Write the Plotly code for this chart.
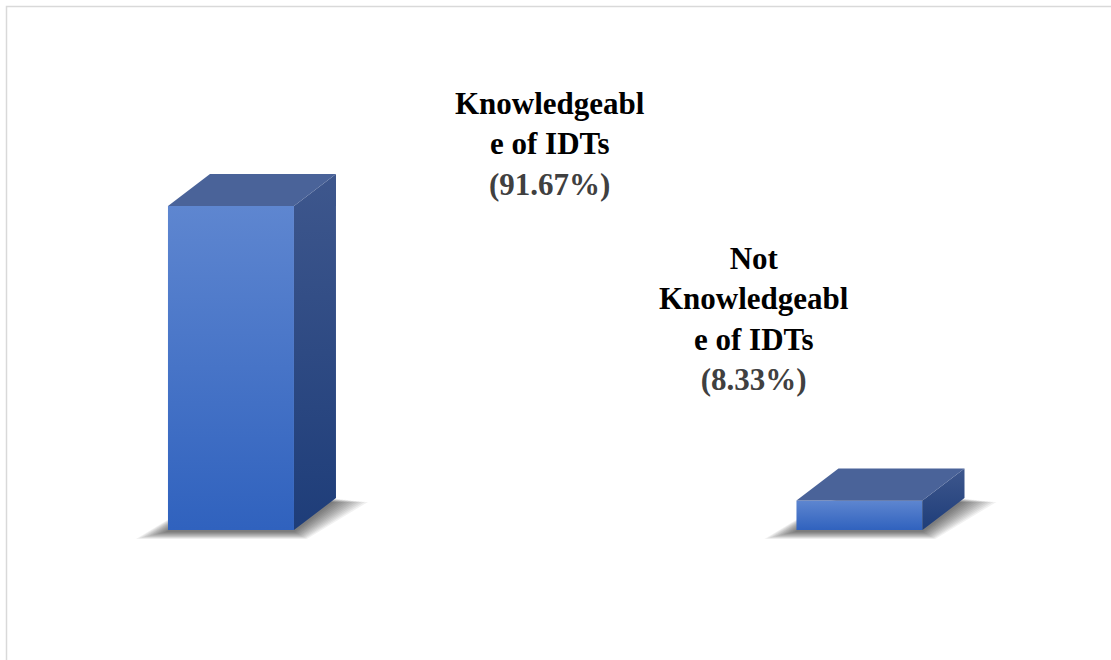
import plotly.graph_objects as go

# ---- data ----
categories = ["Knowledgeable of IDTs", "Not Knowledgeable of IDTs"]
values = [91.67, 8.33]
value_labels = ["(91.67%)", "(8.33%)"]

# ---- layout constants ----
W, H = 1111, 660
XR = [-0.3675, 1.4002]
YR = [-36.78, 149.95]
sx = W / (XR[1] - XR[0])   # px per x unit
sy = H / (YR[1] - YR[0])   # px per y unit
half = 63 / sx             # bar half width
dx = 42 / sx               # 3D depth offset (x)
dy = 32 / sy               # 3D depth offset (y)

label_dx = [0.5076, -0.168]
label_y = [109.3, 59.6]

FRONT = [[0, "rgb(48,98,190)"], [1, "rgb(94,134,208)"]]
SIDE = [[0, "rgb(30,61,121)"], [1, "rgb(62,87,141)"]]
TOP = "rgb(74,99,153)"


def wrap(text, width=12):
    lines, cur = [], ""
    for w in text.split():
        cand = (cur + " " + w) if cur else w
        if len(cand) <= width:
            cur = cand
            continue
        if cur:
            lines.append(cur)
        cur = ""
        while len(w) > width:
            lines.append(w[:width])
            w = w[width:]
        cur = w
    if cur:
        lines.append(cur)
    return lines


fig = go.Figure()


def poly(xs, ys, **kw):
    fig.add_trace(go.Scatter(x=xs + [xs[0]], y=ys + [ys[0]], mode="lines",
                             fill="toself", line=dict(width=0),
                             hoverinfo="skip", showlegend=False, **kw))


for i, (cat, v) in enumerate(zip(categories, values)):
    x = i
    xl, xr = x - half, x + half
    # soft (blurred) shadow on the floor
    n = 12
    for k in range(n):
        t = k / (n - 1)
        ex = (32 - 30 * t) / sx
        ey_down = (9 - 7 * t) / sy
        ey_up = (4 - 3 * t) / sy
        poly([xl - ex, xr + ex * 0.4, xr + dx + ex, xl + dx - ex * 0.4],
             [-ey_down, -ey_down, dy - ey_up, dy - ey_up],
             fillcolor="rgba(0,0,0,0.055)")
    # front face
    poly([xl, xr, xr, xl], [0, 0, v, v],
         fillgradient=dict(type="vertical", colorscale=FRONT))
    # side face
    poly([xr, xr + dx, xr + dx, xr], [0, dy, v + dy, v],
         fillgradient=dict(type="vertical", colorscale=SIDE))
    # top face
    poly([xl, xr, xr + dx, xl + dx], [v, v, v + dy, v + dy], fillcolor=TOP)

for i, cat in enumerate(categories):
    lines = wrap(cat, 12)
    txt = "<br>".join(lines) + "<br><span style='color:#404040'>" + value_labels[i] + "</span>"
    fig.add_annotation(x=i + label_dx[i], y=label_y[i], xref="x", yref="y",
                       text="<b>" + txt + "</b>", showarrow=False,
                       xanchor="center", yanchor="middle", align="center",
                       font=dict(family="Liberation Serif", size=31, color="black"))

fig.add_shape(type="rect", xref="paper", yref="paper",
              x0=6.5 / W, x1=1.02, y0=-0.02, y1=1 - 6.5 / H,
              line=dict(color="#d9d9d9", width=1.5), layer="below")

fig.update_layout(
    width=W, height=H, margin=dict(l=0, r=0, t=0, b=0),
    paper_bgcolor="white", plot_bgcolor="white",
    xaxis=dict(range=XR, visible=False, fixedrange=True),
    yaxis=dict(range=YR, visible=False, fixedrange=True),
    showlegend=False,
)

fig.write_html("out.html")
